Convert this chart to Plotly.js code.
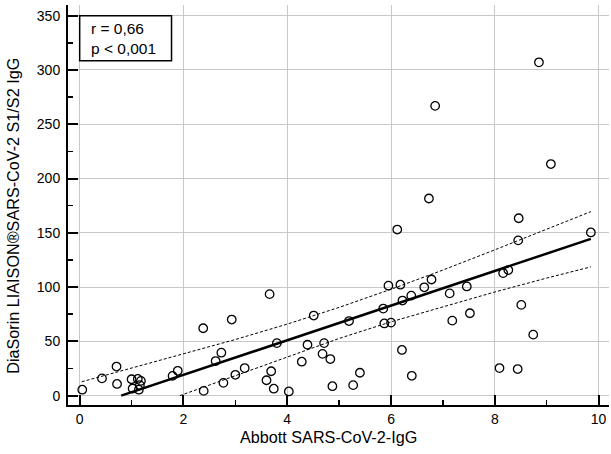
<!DOCTYPE html>
<html>
<head>
<meta charset="utf-8">
<script src="https://cdn.plot.ly/plotly-3.0.1.min.js"></script>
<style>html,body{margin:0;padding:0;background:#fff;}#chart{width:611px;height:454px;}</style>
</head>
<body>
<div id="chart"></div>
<script>
// Scatter data: Abbott SARS-CoV-2-IgG (x) vs DiaSorin LIAISON S1/S2 IgG (y)
const abbott = [0.05,0.43,0.71,0.72,1.00,1.02,1.12,1.14,1.16,1.18,1.79,1.89,2.38,2.39,2.62,2.73,2.77,2.93,3.00,3.18,
  3.66,3.80,3.69,3.60,3.74,4.03,4.28,4.39,4.51,4.68,4.71,4.83,4.87,5.19,5.27,5.40,5.85,5.87,5.95,6.00,
  6.18,6.21,6.22,6.39,6.40,6.64,6.78,7.13,7.18,6.85,8.85,9.08,6.73,8.46,9.85,6.12,8.45,7.46,7.52,8.16,
  8.26,8.51,8.74,8.09,8.44];
const diasorin = [5.5,15.9,26.8,10.8,15.1,6.6,15.4,5.5,9.7,13.6,18.2,22.9,62.1,4.4,31.9,39.6,11.8,70.1,19.2,25.4,
  93.5,48.4,22.5,14.2,6.4,3.9,31.3,46.9,73.8,38.5,48.4,33.7,8.7,68.7,9.7,21.1,80.2,66.5,101.3,67.3,
  102.2,42.1,87.6,92.1,18.3,99.8,107,94.2,69.1,266.9,307,213.3,181.6,163.4,150.3,153,143,100.6,75.9,112.9,
  115.7,83.6,56.2,25.4,24.5];

// Regression line
const fitX = [0.8, 9.85];
const fitY = [0, 144.4];

// 95% confidence band
const upperX = [0.04, 1, 2, 3, 4, 5, 6, 7, 8, 9, 9.85];
const upperY = [12.8, 25.3, 38.0, 51.7, 65.9, 81.3, 98.0, 115.7, 134.3, 153.3, 169.5];
const lowerX = [1.93, 3, 4, 5, 6, 7, 8, 9, 9.85];
const lowerY = [0, 18.5, 36.1, 52.7, 68.0, 82.1, 95.5, 108.3, 118.6];

const statLines = ['r = 0,66', 'p < 0,001'];
const xTitle = 'Abbott SARS-CoV-2-IgG';
const yTitle = 'DiaSorin LIAISON®SARS-CoV-2 S1/S2 IgG';

const fam = 'Liberation Sans, Arial, sans-serif';
const font = {family: fam, size: 14, color: '#000'};
const titleFont = {family: fam, size: 16.2, color: '#000'};
const boxFont = {family: fam, size: 15.5, color: '#000'};

const traces = [
  {x: upperX, y: upperY, mode: 'lines', line: {color: '#000', width: 1, dash: '3px,2px'}, hoverinfo: 'skip'},
  {x: lowerX, y: lowerY, mode: 'lines', line: {color: '#000', width: 1, dash: '3px,2px'}, hoverinfo: 'skip'},
  {x: fitX, y: fitY, mode: 'lines', line: {color: '#000', width: 2.5}, hoverinfo: 'skip'},
  {x: abbott, y: diasorin, mode: 'markers', type: 'scatter',
   marker: {symbol: 'circle-open', size: 8.5, color: '#000', line: {width: 1.3, color: '#000'}}}
];

const layout = {
  width: 611, height: 454,
  margin: {l: 68, r: 2, t: 5, b: 49},
  paper_bgcolor: '#fff', plot_bgcolor: '#fff',
  showlegend: false,
  font: font,
  xaxis: {
    range: [-0.225, 10.2], tickvals: [0,2,4,6,8,10], ticktext: ['0','2','4','6','8','10'],
    ticks: 'inside', ticklen: 10, tickwidth: 2, tickcolor: '#000',
    showline: true, linecolor: '#000', linewidth: 2,
    showgrid: true, gridcolor: '#c8c8c8', gridwidth: 1, zeroline: false,
    minor: {dtick: 1, tick0: 0, ticks: 'inside', ticklen: 5, tickwidth: 1.5, tickcolor: '#000', showgrid: false},
    tickfont: font
  },
  yaxis: {
    range: [-8.6, 359.8], tickvals: [0,50,100,150,200,250,300,350],
    ticks: 'inside', ticklen: 10, tickwidth: 2, tickcolor: '#000',
    showline: true, linecolor: '#000', linewidth: 2,
    showgrid: true, gridcolor: '#c8c8c8', gridwidth: 1, zeroline: false,
    minor: {dtick: 25, tick0: 0, ticks: 'inside', ticklen: 5, tickwidth: 1.5, tickcolor: '#000', showgrid: false},
    tickfont: font, ticklabelstandoff: 3
  },
  shapes: [
    {type: 'rect', xref: 'x', yref: 'y', x0: 0, x1: 1.77, y0: 308.5, y1: 350,
     line: {color: '#000', width: 1.5}, fillcolor: '#fff', layer: 'above'}
  ],
  annotations: [
    {xref: 'x', yref: 'y', x: 0.17, y: 329.3, xanchor: 'left', yanchor: 'middle', align: 'left',
     text: statLines.join('<br>'), showarrow: false, font: boxFont},
    {xref: 'paper', yref: 'paper', x: 0.4815, y: -0.08, xanchor: 'center', yanchor: 'middle',
     text: xTitle, showarrow: false, font: titleFont},
    {xref: 'paper', yref: 'paper', x: -0.1017, y: 0.473, xanchor: 'center', yanchor: 'middle',
     text: yTitle, showarrow: false, font: titleFont, textangle: -90}
  ]
};

Plotly.newPlot('chart', traces, layout, {displayModeBar: false, staticPlot: true});
</script>
</body>
</html>
